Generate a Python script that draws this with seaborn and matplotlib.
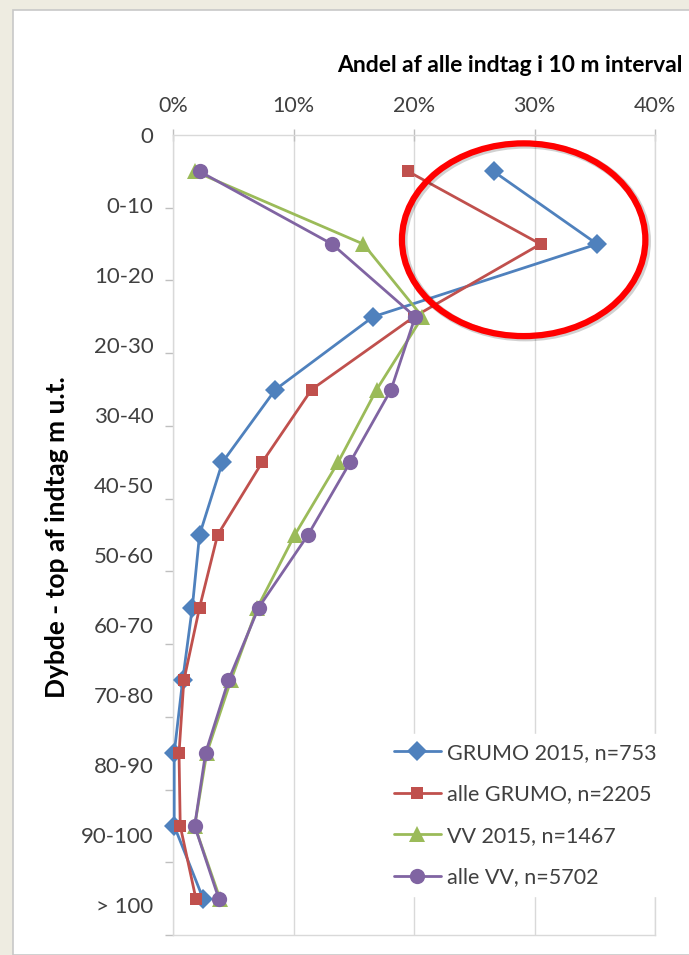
import numpy as np
import pandas as pd
import matplotlib
matplotlib.use("Agg")
import matplotlib.pyplot as plt
from matplotlib.patches import Ellipse, Rectangle
from matplotlib.ticker import FuncFormatter
import seaborn as sns

# Depth classes (midpoint of each 10 m interval, m below terrain)
depth_mid = [5, 15, 25, 35, 45, 55, 65, 75, 85, 95, 105]
depth_labels = ["0", "0-10", "10-20", "20-30", "30-40", "40-50", "50-60",
                "60-70", "70-80", "80-90", "90-100", "> 100"]

# Share of all screens in each 10 m interval (%)
grumo_2015 = [26.6, 35.2, 16.6, 8.5, 4.1, 2.2, 1.6, 0.8, 0.1, 0.1, 2.5]
alle_grumo = [19.5, 30.5, 20.0, 11.5, 7.4, 3.7, 2.2, 0.9, 0.5, 0.6, 1.9]
vv_2015 = [1.8, 15.8, 20.7, 16.9, 13.7, 10.1, 7.0, 4.8, 2.8, 1.8, 3.9]
alle_vv = [2.2, 13.2, 20.1, 18.1, 14.7, 11.2, 7.1, 4.6, 2.7, 1.8, 3.8]

series_names = ["GRUMO 2015, n=753", "alle GRUMO, n=2205",
                "VV 2015, n=1467", "alle VV, n=5702"]
series_values = [grumo_2015, alle_grumo, vv_2015, alle_vv]
series_colors = ["#4F81BD", "#C0504D", "#9BBB59", "#8064A2"]
series_markers = ["D", "s", "^", "o"]
series_msize = [10, 9, 12, 11]

df = pd.concat(
    [pd.DataFrame({"serie": name, "dybde": depth_mid, "andel": vals})
     for name, vals in zip(series_names, series_values)],
    ignore_index=True,
)

sns.set_style("white")
plt.rcParams["font.family"] = ["Lato", "DejaVu Sans"]

fig = plt.figure(figsize=(6.89, 9.55), dpi=100)
fig.patch.set_facecolor("#EEECE1")
# white chart area with a thin grey border
fig.patches.append(Rectangle((13 / 689, 0), 1, 1 - 10 / 955, transform=fig.transFigure,
                             facecolor="white", edgecolor="#C8C8C8", linewidth=1.2,
                             zorder=-1))

ax = fig.add_axes([173 / 689, 1 - 935 / 955, (655 - 173) / 689, (935 - 135) / 955])
ax.set_facecolor("white")

for name, color, mk, ms in zip(series_names, series_colors, series_markers, series_msize):
    sub = df[df["serie"] == name]
    sns.lineplot(data=sub, x="andel", y="dybde", orient="y", sort=False, ax=ax,
                 color=color, marker=mk, markersize=ms, markeredgewidth=0,
                 markeredgecolor=color, linewidth=2.0, label=name, clip_on=False,
                 zorder=3)

ax.set_xlim(0, 40)
ax.set_ylim(110, 0)
ax.set_xlabel("")
ax.set_ylabel("")

# x axis on top
ax.xaxis.tick_top()
ax.set_xticks([0, 10, 20, 30, 40])
ax.xaxis.set_major_formatter(FuncFormatter(lambda v, p: f"{v:.0f}%"))
ax.tick_params(axis="x", which="major", direction="inout", length=9, width=1,
               color="#BFBFBF", labelsize=15.5, labelcolor="#404040", pad=9)
ax.grid(axis="x", color="#D9D9D9", linewidth=1.0)
ax.grid(axis="y", visible=False)

# y axis: tick marks every 10 m, class labels on their own spacing
label_step = 9.625
ax.set_yticks(np.arange(len(depth_labels)) * label_step, depth_labels)
ax.set_yticks(np.arange(0, 111, 10), minor=True)
ax.tick_params(axis="y", which="major", length=0, pad=14, labelsize=16,
               labelcolor="#404040")
ax.tick_params(axis="y", which="minor", left=True, direction="out", length=6,
               width=1, color="#BFBFBF")

for s in ax.spines.values():
    s.set_color("#D9D9D9")
    s.set_linewidth(1.0)

# highlight ring around the shallow GRUMO screens, with a faint shadow
ax.add_patch(Ellipse((29.25, 14.6), 20.2, 26.5, fill=False, edgecolor="#000000",
                     alpha=0.18, linewidth=5.5, zorder=4.9, clip_on=False))
ax.add_patch(Ellipse((29.1, 14.4), 20.2, 26.5, fill=False, edgecolor="#FF0000",
                     linewidth=4.5, zorder=5, clip_on=False))

leg = ax.legend(loc="upper left", bbox_to_anchor=(385 / 689, 1 - 734 / 955),
                bbox_transform=fig.transFigure, frameon=True, fancybox=False,
                facecolor="white", edgecolor="white", framealpha=1,
                fontsize=15.5, labelspacing=1.0, handlelength=2.2,
                handletextpad=0.28, borderpad=0.4, borderaxespad=0)
for t in leg.get_texts():
    t.set_color("#404040")
leg.set_zorder(6)

fig.text(510 / 689, 1 - 65 / 955, "Andel af alle indtag i 10 m interval",
         ha="center", va="center", fontsize=16.5, fontweight="bold", color="black")
fig.text(57 / 689, 1 - 537 / 955, "Dybde - top af indtag m u.t.",
         ha="center", va="center", rotation=90, fontsize=19, fontweight="bold",
         color="black")

fig.savefig("out.png", dpi=100, facecolor=fig.get_facecolor())
